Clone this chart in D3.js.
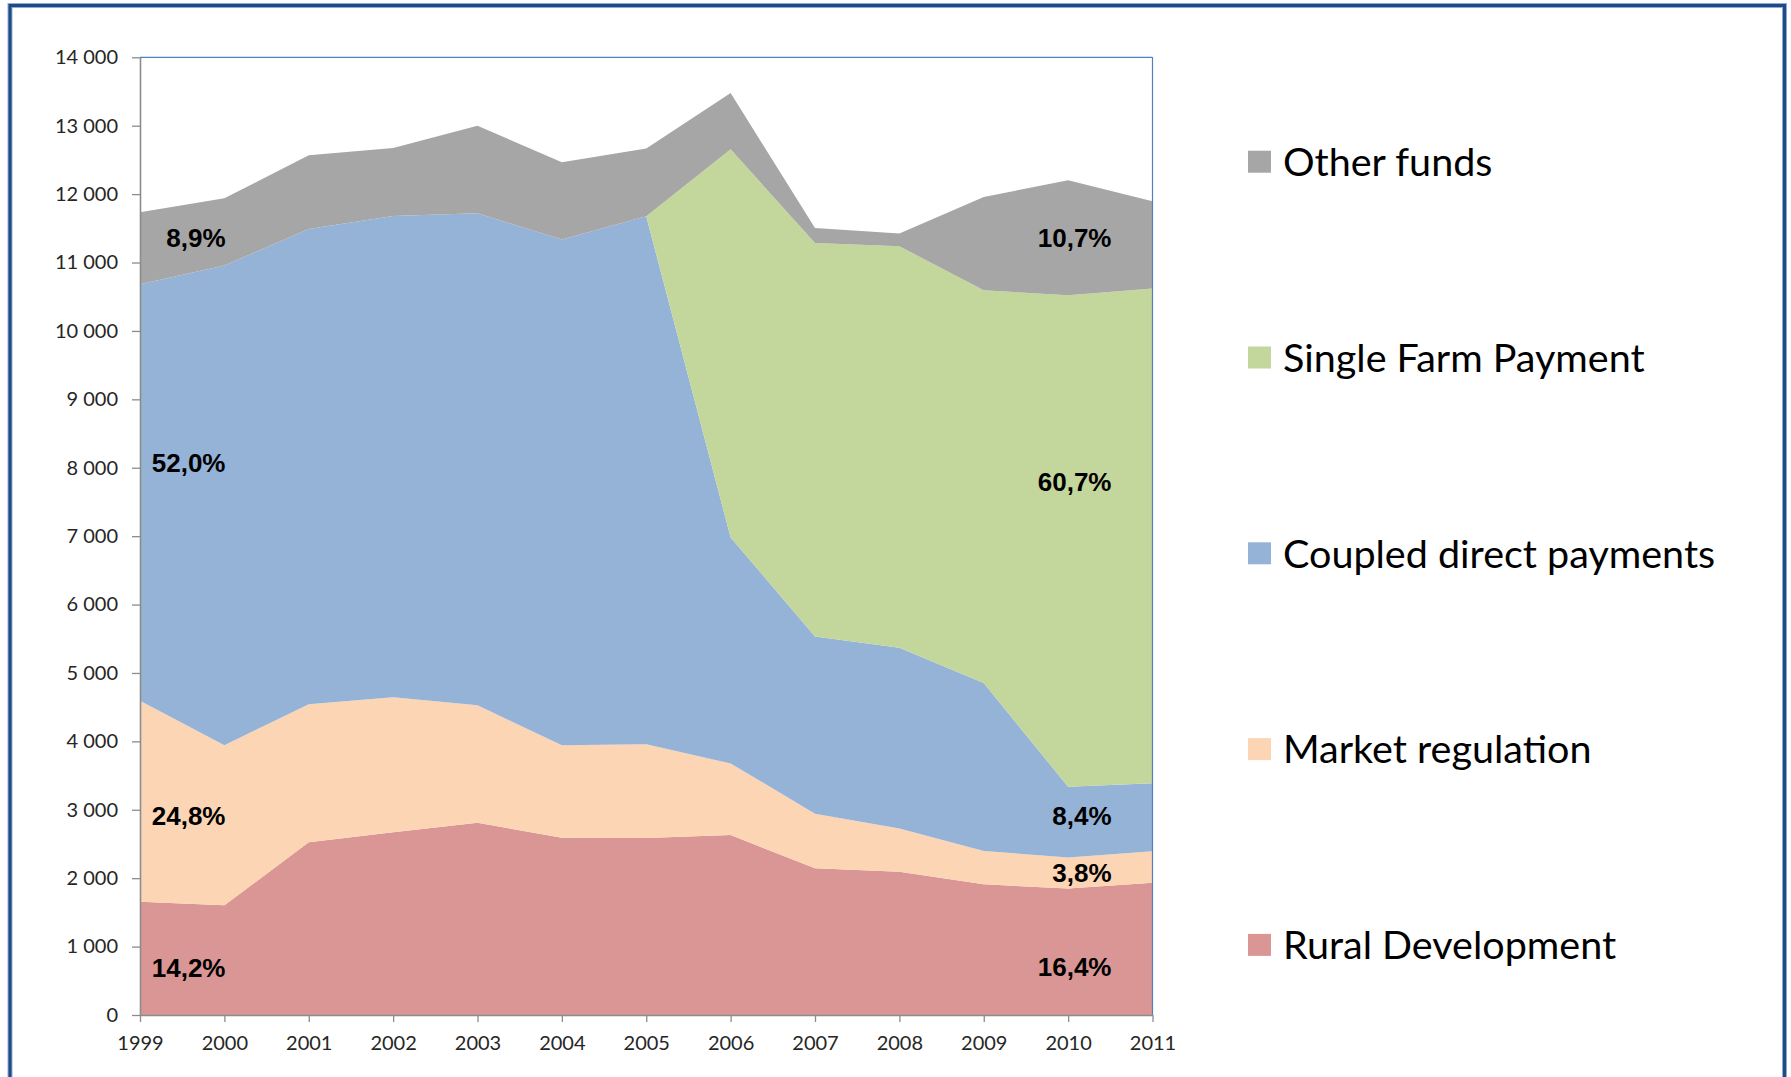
<!DOCTYPE html>
<html>
<head>
<meta charset="utf-8">
<script src="https://cdn.jsdelivr.net/npm/d3@7"></script>
<style>
  body { margin: 0; background: #fff; }
  .chart svg { display: block; }
  text { font-variant-ligatures: none; }
</style>
</head>
<body>
<div class="chart"></div>
<script>
// chart data (EUR million)
var years = [1999, 2000, 2001, 2002, 2003, 2004, 2005, 2006, 2007, 2008, 2009, 2010, 2011];
var ruralDevelopment = [1656, 1603, 2524, 2670, 2810, 2591, 2587, 2630, 2144, 2095, 1910, 1851, 1933];
var marketRegulation = [2938, 2340, 2020, 1974, 1717, 1352, 1372, 1048, 798, 633, 487, 453, 459];
var coupledPayments = [6089, 7013, 6947, 7037, 7193, 7392, 7717, 3303, 2592, 2640, 2455, 1032, 994];
var singleFarmPayment = [0, 0, 0, 0, 0, 0, 0, 5674, 5752, 5870, 5743, 7186, 7234];
var otherFunds = [1051, 983, 1076, 993, 1281, 1130, 989, 823, 219, 185, 1363, 1680, 1275];

var seriesNames = ["Rural Development", "Market regulation", "Coupled direct payments", "Single Farm Payment", "Other funds"];
var seriesColors = ["#d99694", "#fcd5b5", "#95b3d7", "#c3d69b", "#a6a6a6"];
var yTicks = [0, 1000, 2000, 3000, 4000, 5000, 6000, 7000, 8000, 9000, 10000, 11000, 12000, 13000, 14000];

// share labels: text, side of the plot, value height
var labelTexts = ["8,9%", "52,0%", "24,8%", "14,2%", "10,7%", "60,7%", "8,4%", "3,8%", "16,4%"];
var labelSides = ["left", "left", "left", "left", "right", "right", "right", "right", "right"];
var labelValues = [11370, 8070, 2910, 695, 11370, 7800, 2915, 2075, 700];

var svgWidth = 1791;
var svgHeight = 1077;

var svg = d3.select(".chart")
  .append("svg")
  .attr("width", svgWidth)
  .attr("height", svgHeight);

// outer frame
svg.append("rect")
  .attr("x", 10).attr("y", 5.5)
  .attr("width", 1774.5).attr("height", 1100)
  .attr("fill", "none")
  .attr("stroke", "#8eaadb")
  .attr("stroke-width", 5);
svg.append("rect")
  .attr("x", 10).attr("y", 5.5)
  .attr("width", 1774.5).attr("height", 1100)
  .attr("fill", "none")
  .attr("stroke", "#1f4a82")
  .attr("stroke-width", 3);

// build rows for the stack
var rows = years.map(function(y, i) {
  return {
    year: y,
    "Rural Development": ruralDevelopment[i],
    "Market regulation": marketRegulation[i],
    "Coupled direct payments": coupledPayments[i],
    "Single Farm Payment": singleFarmPayment[i],
    "Other funds": otherFunds[i]
  };
});

var stacked = d3.stack().keys(seriesNames)(rows);

// scales
var xScale = d3.scaleLinear()
  .domain([1999, 2011])
  .range([140, 1152.5]);

var yScale = d3.scaleLinear()
  .domain([0, 14000])
  .range([1015, 57.3]);

var area = d3.area()
  .x(d => xScale(d.data.year))
  .y0(d => yScale(d[0]))
  .y1(d => yScale(d[1]));

svg.append("g")
  .selectAll("path")
  .data(stacked)
  .enter()
  .append("path")
  .attr("d", area)
  .attr("fill", (d, i) => seriesColors[i]);

// plot border on top and right
svg.append("line")
  .attr("x1", xScale(1999)).attr("x2", xScale(2011))
  .attr("y1", yScale(14000)).attr("y2", yScale(14000))
  .attr("stroke", "#4f81bd").attr("stroke-width", 1.2);
svg.append("line")
  .attr("x1", xScale(2011)).attr("x2", xScale(2011))
  .attr("y1", yScale(14000)).attr("y2", yScale(0))
  .attr("stroke", "#4f81bd").attr("stroke-width", 1.2);

// axes
var locale = d3.formatLocale({ decimal: ",", thousands: " ", grouping: [3], currency: ["", ""] });

var yAxis = d3.axisLeft(yScale)
  .tickValues(yTicks)
  .tickFormat(locale.format(",d"))
  .tickSizeInner(8)
  .tickSizeOuter(0)
  .tickPadding(14);

var xAxis = d3.axisBottom(xScale)
  .tickValues(years)
  .tickFormat(d3.format("d"))
  .tickSizeInner(7)
  .tickSizeOuter(0)
  .tickPadding(14);

var yAxisGroup = svg.append("g")
  .attr("transform", `translate(${xScale(1999)}, 0)`)
  .call(yAxis);

var xAxisGroup = svg.append("g")
  .attr("transform", `translate(0, ${yScale(0)})`)
  .call(xAxis);

[yAxisGroup, xAxisGroup].forEach(function(g) {
  g.select(".domain").attr("stroke", "#8c8c8c").attr("stroke-width", 1.6);
  g.selectAll(".tick line").attr("stroke", "#8c8c8c").attr("stroke-width", 1.3);
  g.selectAll(".tick text")
    .style("font", "20px Lato, sans-serif")
    .attr("fill", "#262626");
});

// share labels, right-aligned near the first and last year
svg.append("g")
  .selectAll("text")
  .data(labelTexts)
  .enter()
  .append("text")
  .attr("x", (d, i) => labelSides[i] == "left" ? xScale(1999) + 85.5 : xScale(2011) - 41)
  .attr("y", (d, i) => yScale(labelValues[i]))
  .attr("dy", "0.36em")
  .attr("text-anchor", "end")
  .style("font", "bold 26px 'Liberation Sans', Arial, sans-serif")
  .attr("fill", "#000")
  .text(d => d);

// legend, top entry is the top layer
var legendOrder = seriesNames.slice().reverse();
var legend = svg.append("g")
  .selectAll("g")
  .data(legendOrder)
  .enter()
  .append("g")
  .attr("transform", (d, i) => `translate(1248, ${161.7 + i * 195.8})`);

legend.append("rect")
  .attr("x", 0).attr("y", -11)
  .attr("width", 23).attr("height", 22)
  .attr("fill", d => seriesColors[seriesNames.indexOf(d)]);

legend.append("text")
  .attr("x", 35)
  .attr("y", 0)
  .attr("dy", "0.36em")
  .style("font", "39.5px Lato, sans-serif")
  .attr("fill", "#000")
  .text(d => d);
</script>
</body>
</html>
